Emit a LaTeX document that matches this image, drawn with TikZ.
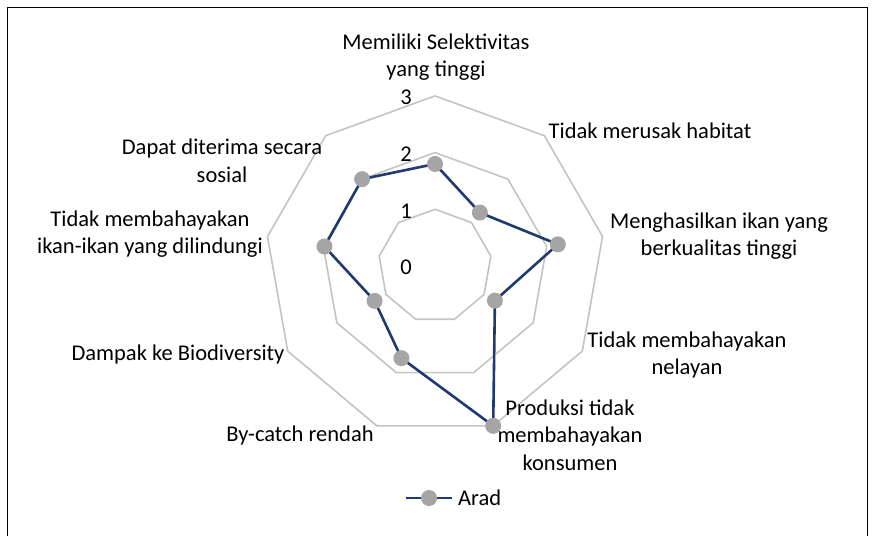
\documentclass[tikz,border=0pt]{standalone}
\usepackage{fontspec}
\setmainfont{Carlito}
\definecolor{navy}{HTML}{1F3A70}
\definecolor{markgray}{HTML}{A5A5A5}
\definecolor{gridgray}{HTML}{C4C4C4}
\begin{document}
\begin{tikzpicture}[x=1pt,y=-1pt,
  gridline/.style={draw=gridgray, line width=1.6pt, line join=miter},
  dataline/.style={draw=navy, line width=2.6pt, line join=round},
  marker/.style={circle, fill=markgray, inner sep=0pt, minimum size=16pt},
  lbl/.style={font=\fontsize{22.5}{27.5}\selectfont, align=center, text=black, inner sep=0pt},
  tick/.style={font=\fontsize{22.5}{24}\selectfont, inner sep=0pt}]
\useasboundingbox (0,0) rectangle (874,536);
\fill[white] (0,0) rectangle (874,536);
\draw[black, line width=1pt] (7,536) -- (7,7) -- (867,7) -- (867,536);
% rings
\foreach \k in {1,2,3}{
  \draw[gridline] ({435},{266-56.7*\k})
    \foreach \a in {40,80,...,320}{ -- ({435+56.7*\k*sin(\a)},{266-56.7*\k*cos(\a)})} -- cycle;
}
% tick labels
\node[tick] (t0) at (406,267) {0};
\node[tick] (t1) at (406,211) {1};
\node[tick] (t2) at (406,154) {2};
\node[tick] (t3) at (406,97) {3};
% data
\foreach \i/\v in {0/1.8, 1/1.23, 2/2.2, 3/1.22, 4/3, 5/1.73, 6/1.23, 7/1.98, 8/2.0}
  \coordinate (v\i) at ({435+56.7*\v*sin(40*\i)},{266-56.7*\v*cos(40*\i)});
\draw[dataline] (v0) -- (v1) -- (v2) -- (v3) -- (v4) -- (v5) -- (v6) -- (v7) -- (v8) -- cycle;
\foreach \i in {0,...,8} \node[marker] (m\i) at (v\i) {};
% category labels
\node[lbl] (c0) at (436,57) {Memiliki Selektivitas\\yang tinggi};
\node[lbl] (c1) at (650,131) {Tidak merusak habitat};
\node[lbl] (c2) at (719,236) {Menghasilkan ikan yang\\berkualitas tinggi};
\node[lbl] (c3) at (687,355) {Tidak membahayakan\\nelayan};
\node[lbl] (c4) at (570,435) {Produksi tidak\\membahayakan\\konsumen};
\node[lbl] (c5) at (300,435) {By-catch rendah};
\node[lbl] (c6) at (178,354) {Dampak ke Biodiversity};
\node[lbl] (c7) at (150,234) {Tidak membahayakan\\ikan-ikan yang dilindungi};
\node[lbl] (c8) at (222,161) {Dapat diterima secara\\sosial};
% legend
\coordinate (la) at (406,498);
\coordinate (lb) at (452,498);
\draw[dataline] (la) -- (lb);
\node[marker] (lm) at (429,498) {};
\node[lbl, anchor=west] (lt) at (458,498) {Arad};
\end{tikzpicture}
\end{document}
